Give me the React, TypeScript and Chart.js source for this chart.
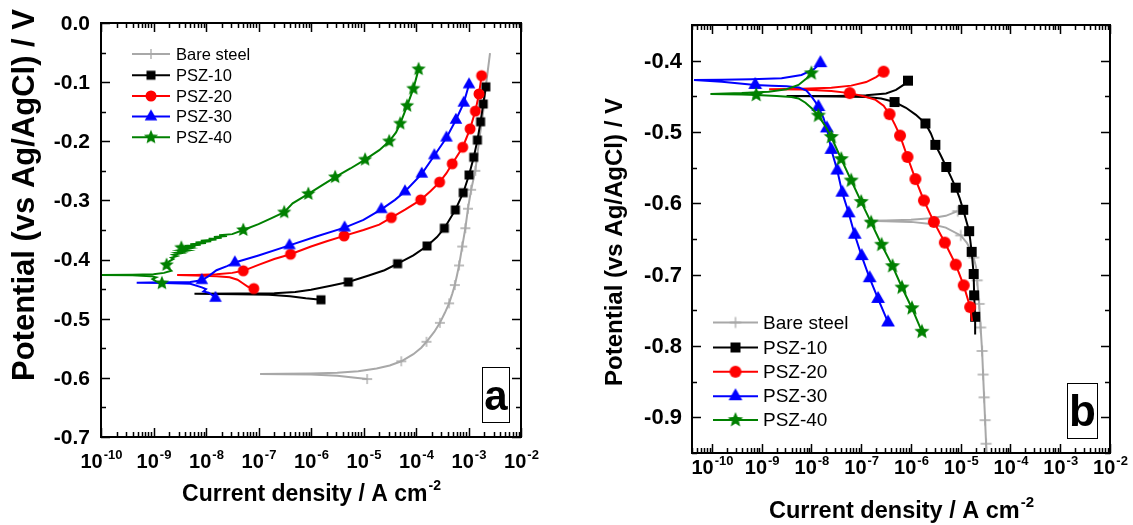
import React, { useEffect, useRef } from 'react';
import { Chart, registerables } from 'chart.js';

Chart.register(...registerables);

const FONT = '"Liberation Sans", Arial, Helvetica, sans-serif';

type Pt = [number, number]; // [log10(current density / A cm^-2), potential / V]

// ---------------- labels / ticks ----------------
const SERIES_LABELS = ['Bare steel', 'PSZ-10', 'PSZ-20', 'PSZ-30', 'PSZ-40'];
const X_TICK_EXPONENTS = [-10, -9, -8, -7, -6, -5, -4, -3, -2];
const A_Y_TICKS = [0, -0.1, -0.2, -0.3, -0.4, -0.5, -0.6, -0.7];
const B_Y_TICKS = [-0.4, -0.5, -0.6, -0.7, -0.8, -0.9];
const X_TITLE = 'Current density / A cm';
const X_TITLE_SUP = '-2';
const Y_TITLE = 'Potential (vs Ag/AgCl) / V';

// ---------------- panel a ----------------
const A_BARE_LINE: Pt[] = [
  [-4.93, -0.602], [-5.2, -0.5995], [-5.5, -0.5965], [-6.0, -0.5945], [-6.5, -0.594], [-6.97, -0.5935],
  [-6.5, -0.593], [-6.0, -0.5925], [-5.5, -0.5915], [-5.1, -0.589], [-4.75, -0.584], [-4.5, -0.579],
  [-4.28, -0.572], [-4.05, -0.56], [-3.9, -0.549], [-3.8, -0.539], [-3.65, -0.522], [-3.545, -0.507],
  [-3.45, -0.49], [-3.37, -0.474], [-3.31, -0.458], [-3.26, -0.443], [-3.22, -0.427], [-3.18, -0.41],
  [-3.12, -0.378], [-3.06, -0.347], [-3.01, -0.314], [-2.95, -0.282], [-2.87, -0.25], [-2.8, -0.2],
  [-2.72, -0.15], [-2.66, -0.1], [-2.59, -0.051],
];
const A_BARE_MARKS: Pt[] = [
  [-4.93, -0.602], [-4.28, -0.572], [-3.8, -0.539], [-3.545, -0.507], [-3.37, -0.474], [-3.26, -0.443],
  [-3.18, -0.41], [-3.12, -0.378], [-3.06, -0.347], [-3.01, -0.314], [-2.95, -0.282], [-2.87, -0.25],
];
const A_PSZ10_LINE: Pt[] = [
  [-5.81, -0.468], [-6.1, -0.4655], [-6.4, -0.462], [-6.8, -0.4595], [-7.4, -0.4585], [-8.22, -0.458],
  [-7.4, -0.4575], [-6.7, -0.457], [-6.3, -0.455], [-6.0, -0.451], [-5.6, -0.444], [-5.29, -0.438],
  [-4.9, -0.427], [-4.6, -0.418], [-4.35, -0.407], [-4.05, -0.393], [-3.79, -0.377], [-3.6, -0.362],
  [-3.46, -0.347], [-3.25, -0.316], [-3.1, -0.287], [-2.99, -0.257], [-2.9, -0.227], [-2.83, -0.198],
  [-2.77, -0.167], [-2.72, -0.137], [-2.67, -0.108],
];
const A_PSZ10_MARKS: Pt[] = [
  [-5.81, -0.468], [-5.29, -0.438], [-4.35, -0.407], [-3.79, -0.377], [-3.46, -0.347], [-3.25, -0.316],
  [-3.1, -0.287], [-2.99, -0.257], [-2.9, -0.227], [-2.83, -0.198], [-2.77, -0.167], [-2.72, -0.137],
  [-2.67, -0.108],
];
const A_PSZ20_LINE: Pt[] = [
  [-7.09, -0.449], [-7.2, -0.446], [-7.3, -0.44], [-7.4, -0.434], [-7.55, -0.43], [-7.8, -0.428],
  [-8.2, -0.4268], [-8.55, -0.426], [-8.2, -0.4262], [-7.8, -0.425], [-7.5, -0.4225], [-7.29, -0.419],
  [-7.0, -0.409], [-6.7, -0.399], [-6.39, -0.391], [-6.0, -0.378], [-5.7, -0.369], [-5.37, -0.36],
  [-5.0, -0.35], [-4.7, -0.341], [-4.47, -0.329], [-4.2, -0.315], [-3.91, -0.299], [-3.72, -0.284],
  [-3.55, -0.269], [-3.42, -0.254], [-3.31, -0.238], [-3.11, -0.21], [-2.97, -0.179], [-2.87, -0.149],
  [-2.8, -0.12], [-2.75, -0.089],
];
const A_PSZ20_MARKS: Pt[] = [
  [-7.09, -0.449], [-7.29, -0.419], [-6.39, -0.391], [-5.37, -0.36], [-4.47, -0.329], [-3.91, -0.299],
  [-3.55, -0.269], [-3.31, -0.238], [-3.11, -0.21], [-2.97, -0.179], [-2.87, -0.149], [-2.8, -0.12],
  [-2.75, -0.089],
];
const A_PSZ30_LINE: Pt[] = [
  [-7.82, -0.465], [-7.88, -0.46], [-7.95, -0.456], [-8.05, -0.454], [-8.0, -0.45], [-8.08, -0.447],
  [-8.3, -0.441], [-8.8, -0.4395], [-9.32, -0.439], [-8.8, -0.4385], [-8.3, -0.438], [-8.08, -0.435],
  [-7.95, -0.428], [-7.8, -0.418], [-7.6, -0.411], [-7.45, -0.405], [-7.0, -0.393], [-6.41, -0.376],
  [-5.9, -0.361], [-5.36, -0.346], [-5.0, -0.333], [-4.66, -0.315], [-4.4, -0.299], [-4.21, -0.285],
  [-3.89, -0.255], [-3.65, -0.224], [-3.42, -0.194], [-3.24, -0.164], [-3.09, -0.135], [-2.99, -0.104],
];
const A_PSZ30_MARKS: Pt[] = [
  [-7.82, -0.465], [-8.08, -0.435], [-7.45, -0.405], [-6.41, -0.376], [-5.36, -0.346], [-4.66, -0.315],
  [-4.21, -0.285], [-3.89, -0.255], [-3.65, -0.224], [-3.42, -0.194], [-3.24, -0.164], [-3.09, -0.135],
  [-2.99, -0.104],
];
const A_PSZ40_LINE: Pt[] = [
  [-8.84, -0.44], [-8.95, -0.437], [-9.02, -0.433], [-8.95, -0.43], [-9.05, -0.428], [-9.4, -0.4265],
  [-10.0, -0.426], [-9.4, -0.4255], [-9.0, -0.425], [-8.8, -0.4225], [-8.66, -0.419], [-8.72, -0.414],
  [-8.76, -0.409], [-8.7, -0.403], [-8.62, -0.399], [-8.66, -0.397], [-8.55, -0.394], [-8.62, -0.392],
  [-8.45, -0.389], [-8.55, -0.388], [-8.35, -0.385], [-8.5, -0.384], [-8.3, -0.381], [-8.45, -0.38],
  [-8.2, -0.378], [-8.4, -0.377], [-8.1, -0.375], [-8.3, -0.374], [-8.0, -0.372], [-8.2, -0.371],
  [-7.9, -0.369], [-8.1, -0.368], [-7.8, -0.366], [-7.95, -0.365], [-7.7, -0.363], [-7.85, -0.362],
  [-7.6, -0.36], [-7.75, -0.359], [-7.5, -0.357], [-7.29, -0.35], [-7.0, -0.34],
  [-6.75, -0.33], [-6.51, -0.32], [-6.35, -0.305], [-6.05, -0.289], [-5.8, -0.275], [-5.54, -0.2605],
  [-5.25, -0.246], [-4.97, -0.231], [-4.7, -0.215], [-4.51, -0.2], [-4.38, -0.185], [-4.3, -0.17],
  [-4.17, -0.14], [-4.05, -0.111], [-3.95, -0.078],
];
const A_PSZ40_MARKS: Pt[] = [
  [-8.84, -0.44], [-8.75, -0.409], [-8.47, -0.38], [-7.29, -0.35], [-6.51, -0.32], [-6.05, -0.289],
  [-5.54, -0.2605], [-4.97, -0.231], [-4.51, -0.2], [-4.3, -0.17], [-4.17, -0.14], [-4.05, -0.111],
  [-3.95, -0.078],
];

// ---------------- panel b ----------------
const B_BARE_LINE: Pt[] = [
  [-5.06, -0.611], [-5.3, -0.6175], [-5.6, -0.621], [-6.0, -0.623], [-6.5, -0.624], [-6.92, -0.6245],
  [-6.5, -0.625], [-6.0, -0.626], [-5.6, -0.629], [-5.3, -0.634], [-5.0, -0.645], [-4.88, -0.655],
  [-4.8, -0.665], [-4.74, -0.676], [-4.69, -0.69], [-4.67, -0.708], [-4.63, -0.741], [-4.6, -0.774],
  [-4.57, -0.807], [-4.55, -0.84], [-4.53, -0.872], [-4.51, -0.904], [-4.49, -0.937], [-4.47, -0.96],
];
const B_BARE_MARKS: Pt[] = [
  [-5.06, -0.611], [-5.0, -0.645], [-4.74, -0.676], [-4.67, -0.708], [-4.63, -0.741], [-4.6, -0.774],
  [-4.57, -0.807], [-4.55, -0.84], [-4.53, -0.872], [-4.51, -0.904], [-4.49, -0.937],
];
const B_PSZ10_LINE: Pt[] = [
  [-6.06, -0.428], [-6.15, -0.434], [-6.3, -0.441], [-6.5, -0.446], [-6.9, -0.4485], [-7.5, -0.4495],
  [-8.5, -0.4497], [-7.5, -0.4503], [-6.9, -0.451], [-6.6, -0.453], [-6.33, -0.458], [-6.1, -0.466],
  [-5.9, -0.476], [-5.71, -0.488], [-5.6, -0.502], [-5.51, -0.518], [-5.4, -0.533], [-5.29, -0.549],
  [-5.19, -0.564], [-5.1, -0.578], [-5.02, -0.593], [-4.95, -0.609], [-4.83, -0.639], [-4.78, -0.668],
  [-4.74, -0.699], [-4.73, -0.729], [-4.71, -0.759], [-4.71, -0.784],
];
const B_PSZ10_MARKS: Pt[] = [
  [-6.06, -0.428], [-6.33, -0.458], [-5.71, -0.488], [-5.51, -0.518], [-5.29, -0.549], [-5.1, -0.578],
  [-4.95, -0.609], [-4.83, -0.639], [-4.78, -0.668], [-4.74, -0.699], [-4.73, -0.729], [-4.71, -0.759],
];
const B_PSZ20_LINE: Pt[] = [
  [-6.55, -0.4154], [-6.7, -0.423], [-6.9, -0.43], [-7.2, -0.435], [-7.6, -0.438], [-8.2, -0.4395],
  [-8.85, -0.44], [-8.2, -0.4405], [-7.6, -0.4425], [-7.23, -0.4455], [-6.95, -0.45], [-6.71, -0.455],
  [-6.55, -0.463], [-6.43, -0.475], [-6.32, -0.49], [-6.22, -0.505], [-6.07, -0.535], [-5.91, -0.566],
  [-5.74, -0.596], [-5.54, -0.626], [-5.32, -0.655], [-5.1, -0.686], [-4.94, -0.715], [-4.81, -0.7455],
  [-4.77, -0.765],
];
const B_PSZ20_MARKS: Pt[] = [
  [-6.55, -0.4154], [-7.23, -0.4455], [-6.43, -0.475], [-6.22, -0.505], [-6.07, -0.535], [-5.91, -0.566],
  [-5.74, -0.596], [-5.54, -0.626], [-5.32, -0.655], [-5.1, -0.686], [-4.94, -0.715], [-4.81, -0.7455],
];
const B_PSZ30_LINE: Pt[] = [
  [-7.82, -0.4035], [-7.95, -0.412], [-8.2, -0.42], [-8.6, -0.4245], [-9.2, -0.426], [-9.8, -0.4268],
  [-10.36, -0.427], [-9.8, -0.4295], [-9.13, -0.434], [-8.8, -0.4352], [-8.5, -0.436], [-8.25, -0.4375],
  [-8.1, -0.442], [-8.0, -0.45], [-7.92, -0.458], [-7.86, -0.465], [-7.76, -0.48], [-7.69, -0.495],
  [-7.6, -0.525], [-7.48, -0.554], [-7.38, -0.585], [-7.25, -0.614], [-7.13, -0.644], [-6.99, -0.674],
  [-6.83, -0.705], [-6.66, -0.734], [-6.46, -0.767],
];
const B_PSZ30_MARKS: Pt[] = [
  [-7.82, -0.4035], [-9.13, -0.434], [-7.86, -0.465], [-7.69, -0.495], [-7.6, -0.525], [-7.48, -0.554],
  [-7.38, -0.585], [-7.25, -0.614], [-7.13, -0.644], [-6.99, -0.674], [-6.83, -0.705], [-6.66, -0.734],
  [-6.46, -0.767],
];
const B_PSZ40_LINE: Pt[] = [
  [-8.0, -0.4177], [-8.1, -0.425], [-8.26, -0.434], [-8.5, -0.44], [-8.86, -0.4435], [-9.4, -0.4455],
  [-10.03, -0.4468], [-9.4, -0.4473], [-9.11, -0.448], [-8.7, -0.4495], [-8.4, -0.451], [-8.26, -0.453],
  [-8.12, -0.459], [-7.99, -0.467], [-7.86, -0.477], [-7.72, -0.492], [-7.6, -0.507], [-7.4, -0.538],
  [-7.2, -0.568], [-7.0, -0.598], [-6.8, -0.627], [-6.59, -0.658], [-6.37, -0.688], [-6.18, -0.718],
  [-5.98, -0.747], [-5.78, -0.78],
];
const B_PSZ40_MARKS: Pt[] = [
  [-8.0, -0.4177], [-9.11, -0.448], [-7.86, -0.477], [-7.6, -0.507], [-7.4, -0.538], [-7.2, -0.568],
  [-7.0, -0.598], [-6.8, -0.627], [-6.59, -0.658], [-6.37, -0.688], [-6.18, -0.718], [-5.98, -0.747],
  [-5.78, -0.78],
];

// ---------------- styling ----------------
const COLORS = ['#a8a8a8', '#000000', '#ff0000', '#0000ff', '#008000'];
const MARKER_KINDS = ['cross', 'square', 'circle', 'triangle', 'star'];

type MarkerSizes = Record<string, number>;

function makeMarker(kind: string, s: number, color: string): HTMLCanvasElement {
  const size = Math.ceil(s * 2 + 4);
  const cv = document.createElement('canvas');
  cv.width = size;
  cv.height = size;
  const ctx = cv.getContext('2d')!;
  const c = size / 2;
  ctx.fillStyle = color;
  ctx.strokeStyle = color;
  if (kind === 'square') {
    ctx.fillRect(c - s / 2, c - s / 2, s, s);
  } else if (kind === 'circle') {
    ctx.beginPath();
    ctx.arc(c, c, s / 2, 0, Math.PI * 2);
    ctx.fill();
  } else if (kind === 'triangle') {
    const w = s * 1.15;
    const h = s;
    ctx.beginPath();
    ctx.moveTo(c, c - (h * 2) / 3);
    ctx.lineTo(c + w / 2, c + h / 3);
    ctx.lineTo(c - w / 2, c + h / 3);
    ctx.closePath();
    ctx.fill();
  } else if (kind === 'star') {
    const R = s / 2;
    ctx.beginPath();
    for (let i = 0; i < 10; i++) {
      const r = i % 2 === 0 ? R : R * 0.45;
      const a = -Math.PI / 2 + (i * Math.PI) / 5;
      ctx.lineTo(c + r * Math.cos(a), c + r * Math.sin(a));
    }
    ctx.closePath();
    ctx.fill();
  } else {
    ctx.lineWidth = 1.3;
    ctx.beginPath();
    ctx.moveTo(c - s / 2, c);
    ctx.lineTo(c + s / 2, c);
    ctx.moveTo(c, c - s / 2);
    ctx.lineTo(c, c + s / 2);
    ctx.stroke();
  }
  return cv;
}

interface PanelSpec {
  left: number;
  width: number;
  padding: { left: number; right: number; top: number; bottom: number };
  logMin: number;
  logMax: number;
  eMin: number;
  eMax: number;
  yTicks: number[];
  lines: Pt[][];
  marks: Pt[][];
  markerSizes: MarkerSizes;
  tickFont: number;
  xTickFont: number;
  xTickSup: number;
  xLabelBaseline: number;
  yLabelGap: number;
  xTitleY: number;
  xTitleFont: number;
  yTitleX: number;
  yTitleY: number;
  yTitleFont: number;
  legend: { x0: number; x1: number; tx: number; rows: number[]; font: number };
  box: { x: number; y: number; w: number; h: number; letter: string; font: number };
}

const PANEL_A: PanelSpec = {
  left: 0,
  width: 566,
  padding: { left: 101, right: 45, top: 23, bottom: 88 },
  logMin: -10,
  logMax: -2,
  eMin: -0.7,
  eMax: 0,
  yTicks: A_Y_TICKS,
  lines: [A_BARE_LINE, A_PSZ10_LINE, A_PSZ20_LINE, A_PSZ30_LINE, A_PSZ40_LINE],
  marks: [A_BARE_MARKS, A_PSZ10_MARKS, A_PSZ20_MARKS, A_PSZ30_MARKS, A_PSZ40_MARKS],
  markerSizes: { cross: 10, square: 9, circle: 11, triangle: 11, star: 15 },
  tickFont: 21,
  xTickFont: 20,
  xTickSup: 13,
  xLabelBaseline: 468,
  yLabelGap: 11,
  xTitleY: 501,
  xTitleFont: 23,
  yTitleX: 25,
  yTitleY: 195,
  yTitleFont: 31,
  legend: { x0: 132, x1: 170, tx: 176, rows: [54, 75.2, 96, 116.6, 137.3], font: 16.5 },
  box: { x: 482, y: 367, w: 27, h: 55, letter: 'a', font: 42 },
};

const PANEL_B: PanelSpec = {
  left: 566,
  width: 567,
  padding: { left: 126, right: 23, top: 25, bottom: 72 },
  logMin: -10.4,
  logMax: -2,
  eMin: -0.95,
  eMax: -0.35,
  yTicks: B_Y_TICKS,
  lines: [B_BARE_LINE, B_PSZ10_LINE, B_PSZ20_LINE, B_PSZ30_LINE, B_PSZ40_LINE],
  marks: [B_BARE_MARKS, B_PSZ10_MARKS, B_PSZ20_MARKS, B_PSZ30_MARKS, B_PSZ40_MARKS],
  markerSizes: { cross: 11, square: 10, circle: 12, triangle: 12, star: 16 },
  tickFont: 22,
  xTickFont: 20,
  xTickSup: 13,
  xLabelBaseline: 474,
  yLabelGap: 10,
  xTitleY: 518,
  xTitleFont: 23.5,
  yTitleX: 49,
  yTitleY: 242,
  yTitleFont: 24,
  legend: { x0: 147, x1: 192, tx: 197, rows: [322.5, 347.5, 371.7, 396.2, 420], font: 19 },
  box: { x: 501, y: 383, w: 30, h: 55, letter: 'b', font: 44 },
};

const toXY = (arr: Pt[]) => arr.map(([l, e]) => ({ x: Math.pow(10, l), y: e }));

function decorPlugin(spec: PanelSpec, markers: HTMLCanvasElement[]) {
  return {
    id: 'decor',
    afterDraw(chart: any) {
      const { ctx, chartArea: ca } = chart;
      const xs = chart.scales.x;
      const ys = chart.scales.y;
      ctx.save();

      // ticks (inward, all four sides)
      ctx.strokeStyle = '#000';
      ctx.lineWidth = 1.5;
      ctx.beginPath();
      const lmin = Math.floor(spec.logMin);
      const lmax = Math.ceil(spec.logMax);
      for (let e = lmin; e <= lmax; e++) {
        for (let k = 1; k <= 9; k++) {
          const lv = e + Math.log10(k);
          if (lv < spec.logMin - 1e-6 || lv > spec.logMax + 1e-6) continue;
          const px = Math.round(xs.getPixelForValue(Math.pow(10, lv))) + 0.5;
          const len = k === 1 ? 9 : 5;
          ctx.moveTo(px, ca.bottom);
          ctx.lineTo(px, ca.bottom - len);
          ctx.moveTo(px, ca.top);
          ctx.lineTo(px, ca.top + len);
        }
      }
      const nSteps = Math.round((spec.eMax - spec.eMin) / 0.05);
      for (let i = 0; i <= nSteps; i++) {
        const v = spec.eMin + i * 0.05;
        const major = Math.abs(v * 10 - Math.round(v * 10)) < 1e-6;
        const py = Math.round(ys.getPixelForValue(v)) + 0.5;
        const len = major ? 9 : 5;
        ctx.moveTo(ca.left, py);
        ctx.lineTo(ca.left + len, py);
        ctx.moveTo(ca.right, py);
        ctx.lineTo(ca.right - len, py);
      }
      ctx.stroke();

      // frame
      ctx.lineWidth = 2;
      ctx.strokeRect(ca.left, ca.top, ca.right - ca.left, ca.bottom - ca.top);

      // y tick labels
      ctx.fillStyle = '#000';
      ctx.font = `bold ${spec.tickFont}px ${FONT}`;
      ctx.textAlign = 'right';
      ctx.textBaseline = 'middle';
      for (const v of spec.yTicks) {
        ctx.fillText(v.toFixed(1), ca.left - spec.yLabelGap, ys.getPixelForValue(v) + 1);
      }

      // x tick labels 10^n
      ctx.textBaseline = 'alphabetic';
      ctx.textAlign = 'left';
      for (const e of X_TICK_EXPONENTS) {
        const px = xs.getPixelForValue(Math.pow(10, e));
        ctx.font = `bold ${spec.xTickFont}px ${FONT}`;
        const w1 = ctx.measureText('10').width;
        ctx.font = `bold ${spec.xTickSup}px ${FONT}`;
        const sup = String(e);
        const w2 = ctx.measureText(sup).width;
        const x0 = px - (w1 + w2) / 2;
        ctx.font = `bold ${spec.xTickFont}px ${FONT}`;
        ctx.fillText('10', x0, spec.xLabelBaseline);
        ctx.font = `bold ${spec.xTickSup}px ${FONT}`;
        ctx.fillText(sup, x0 + w1 + 1, spec.xLabelBaseline - 9);
      }

      // x title
      ctx.font = `bold ${spec.xTitleFont}px ${FONT}`;
      const tw = ctx.measureText(X_TITLE).width;
      ctx.font = `bold ${Math.round(spec.xTitleFont * 0.62)}px ${FONT}`;
      const sw = ctx.measureText(X_TITLE_SUP).width;
      const cx = (ca.left + ca.right) / 2;
      const tx0 = cx - (tw + sw) / 2;
      ctx.font = `bold ${spec.xTitleFont}px ${FONT}`;
      ctx.fillText(X_TITLE, tx0, spec.xTitleY);
      ctx.font = `bold ${Math.round(spec.xTitleFont * 0.62)}px ${FONT}`;
      ctx.fillText(X_TITLE_SUP, tx0 + tw + 1, spec.xTitleY - 11);

      // y title
      ctx.save();
      ctx.translate(spec.yTitleX, spec.yTitleY);
      ctx.rotate(-Math.PI / 2);
      ctx.font = `bold ${spec.yTitleFont}px ${FONT}`;
      ctx.textAlign = 'center';
      ctx.textBaseline = 'middle';
      ctx.fillText(Y_TITLE, 0, 0);
      ctx.restore();

      // legend
      const lg = spec.legend;
      ctx.font = `${lg.font}px ${FONT}`;
      ctx.textAlign = 'left';
      ctx.textBaseline = 'middle';
      SERIES_LABELS.forEach((label, i) => {
        const y = lg.rows[i];
        ctx.strokeStyle = COLORS[i];
        ctx.lineWidth = 2;
        ctx.beginPath();
        ctx.moveTo(lg.x0, y);
        ctx.lineTo(lg.x1, y);
        ctx.stroke();
        const m = markers[i];
        ctx.drawImage(m, (lg.x0 + lg.x1) / 2 - m.width / 2, y - m.height / 2);
        ctx.fillStyle = '#000';
        ctx.fillText(label, lg.tx, y + 1);
      });

      // panel letter box
      const b = spec.box;
      ctx.strokeStyle = '#000';
      ctx.lineWidth = 1;
      ctx.strokeRect(b.x + 0.5, b.y + 0.5, b.w, b.h);
      ctx.font = `bold ${b.font}px ${FONT}`;
      ctx.textAlign = 'center';
      ctx.textBaseline = 'alphabetic';
      ctx.fillStyle = '#000';
      ctx.fillText(b.letter, b.x + b.w / 2 + 0.5, b.y + b.h - 12);

      ctx.restore();
    },
  };
}

function buildConfig(spec: PanelSpec): any {
  const markers = MARKER_KINDS.map((k, i) => makeMarker(k, spec.markerSizes[k], COLORS[i]));
  const datasets: any[] = [];
  SERIES_LABELS.forEach((label, i) => {
    datasets.push({
      label,
      data: toXY(spec.lines[i]),
      showLine: true,
      borderColor: COLORS[i],
      backgroundColor: COLORS[i],
      borderWidth: 2,
      pointRadius: 0,
      tension: 0,
      order: (4 - i) * 2 + 1,
    });
    datasets.push({
      label: label + ' markers',
      data: toXY(spec.marks[i]),
      showLine: false,
      pointStyle: markers[i],
      pointRadius: 5,
      borderColor: COLORS[i],
      backgroundColor: COLORS[i],
      order: (4 - i) * 2,
    });
  });
  return {
    type: 'scatter',
    data: { datasets },
    options: {
      animation: false,
      responsive: false,
      maintainAspectRatio: false,
      events: [],
      layout: { padding: spec.padding },
      scales: {
        x: { type: 'logarithmic', min: Math.pow(10, spec.logMin), max: Math.pow(10, spec.logMax), display: false },
        y: { type: 'linear', min: spec.eMin, max: spec.eMax, display: false },
      },
      plugins: { legend: { display: false }, tooltip: { enabled: false } },
    },
    plugins: [decorPlugin(spec, markers)],
  };
}

function Panel({ spec }: { spec: PanelSpec }) {
  const ref = useRef<HTMLCanvasElement>(null);
  useEffect(() => {
    const chart = new Chart(ref.current as HTMLCanvasElement, buildConfig(spec));
    return () => chart.destroy();
  }, [spec]);
  return (
    <canvas
      ref={ref}
      width={spec.width}
      height={525}
      style={{ position: 'absolute', left: spec.left, top: 0, width: spec.width, height: 525 }}
    />
  );
}

export default function App() {
  return (
    <div style={{ position: 'absolute', left: 0, top: 0, width: 1133, height: 525, background: '#fff', overflow: 'hidden' }}>
      <Panel spec={PANEL_A} />
      <Panel spec={PANEL_B} />
    </div>
  );
}
